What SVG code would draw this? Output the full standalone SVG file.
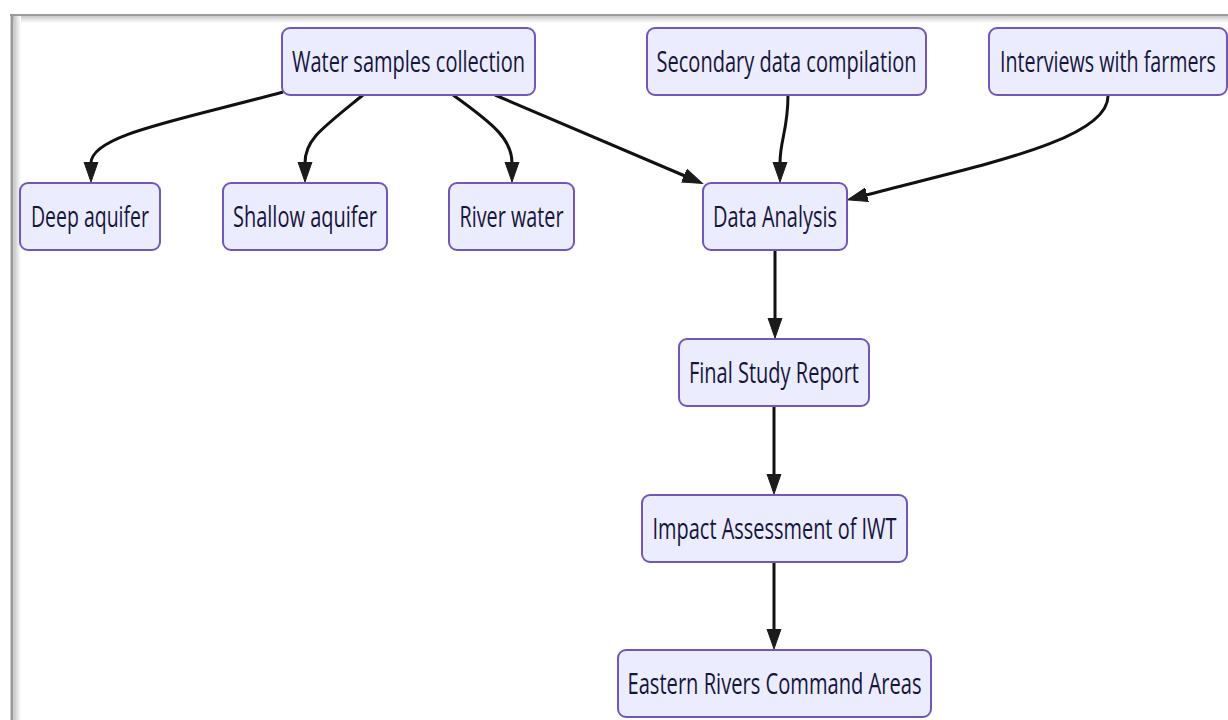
<svg xmlns="http://www.w3.org/2000/svg" width="1228" height="720" viewBox="0 0 1228 720">
<style>
.node rect{fill:#ECECFF;stroke:#7256B8;stroke-width:2}
.node text{font-family:"Open Sans","Noto Sans",sans-serif;font-size:29px;fill:#16163a;text-anchor:middle}
.edge{fill:none;stroke:#111;stroke-width:3;marker-end:url(#arrow)}
</style>
<defs>
<marker id="arrow" markerUnits="userSpaceOnUse" markerWidth="22" markerHeight="16" refX="1" refY="8" orient="auto" viewBox="0 0 22 16">
<path d="M0,1 L20,8 L0,15 z" fill="#1b1b1b" stroke="#1b1b1b" stroke-width="1"/>
</marker>
<linearGradient id="gt" x1="0" y1="0" x2="0" y2="1"><stop offset="0" stop-color="#c8c8c8"/><stop offset="1" stop-color="#fff"/></linearGradient>
<linearGradient id="gl" x1="0" y1="0" x2="1" y2="0"><stop offset="0" stop-color="#c8c8c8"/><stop offset="1" stop-color="#fff"/></linearGradient>
</defs>
<rect width="1228" height="720" fill="#fff"/>
<g id="frame">
<rect x="12" y="16" width="1216" height="7" fill="url(#gt)"/>
<rect x="14" y="16" width="7" height="704" fill="url(#gl)"/>
<line x1="10" y1="15" x2="1228" y2="15" stroke="#9a9a9a" stroke-width="2"/>
<line x1="12" y1="14" x2="12" y2="720" stroke="#9a9a9a" stroke-width="3"/>
</g>
<g id="connectors">
<path class="edge" d="M283,92 C180,120 91,135 91,163"/>
<path class="edge" d="M363,95 C320,130 305,140 305,163"/>
<path class="edge" d="M453,95 C495,125 512,140 512,163"/>
<path class="edge" d="M495,95 L685,176"/>
<path class="edge" d="M788,95 C788,130 780,140 780,163"/>
<path class="edge" d="M1108,95 C1110,140 980,165 866,195"/>
<path class="edge" d="M775,250 L775,319"/>
<path class="edge" d="M774,406 L774,475"/>
<path class="edge" d="M774,562 L774,630"/>
</g>
<g id="water-samples" class="node"><rect x="282" y="28" width="253" height="67" rx="8"/><text transform="scale(0.69,1)" x="592.0" y="72" textLength="337.7" lengthAdjust="spacingAndGlyphs">Water samples collection</text></g>
<g id="secondary-data" class="node"><rect x="647" y="28" width="279" height="67" rx="8"/><text transform="scale(0.69,1)" x="1139.9" y="72" textLength="376.8" lengthAdjust="spacingAndGlyphs">Secondary data compilation</text></g>
<g id="interviews" class="node"><rect x="989" y="28" width="238" height="67" rx="8"/><text transform="scale(0.69,1)" x="1605.8" y="72" textLength="313.0" lengthAdjust="spacingAndGlyphs">Interviews with farmers</text></g>
<g id="deep-aquifer" class="node"><rect x="20" y="183" width="140" height="67" rx="8"/><text transform="scale(0.69,1)" x="130.4" y="227" textLength="171.0" lengthAdjust="spacingAndGlyphs">Deep aquifer</text></g>
<g id="shallow-aquifer" class="node"><rect x="223" y="183" width="164" height="67" rx="8"/><text transform="scale(0.69,1)" x="442.0" y="227" textLength="208.7" lengthAdjust="spacingAndGlyphs">Shallow aquifer</text></g>
<g id="river-water" class="node"><rect x="449" y="183" width="125" height="67" rx="8"/><text transform="scale(0.69,1)" x="741.3" y="227" textLength="150.7" lengthAdjust="spacingAndGlyphs">River water</text></g>
<g id="data-analysis" class="node"><rect x="703" y="183" width="144" height="67" rx="8"/><text transform="scale(0.69,1)" x="1123.2" y="227" textLength="179.7" lengthAdjust="spacingAndGlyphs">Data Analysis</text></g>
<g id="final-report" class="node"><rect x="679" y="339" width="190" height="67" rx="8"/><text transform="scale(0.69,1)" x="1121.7" y="383" textLength="246.4" lengthAdjust="spacingAndGlyphs">Final Study Report</text></g>
<g id="impact-assessment" class="node"><rect x="642" y="495" width="265" height="67" rx="8"/><text transform="scale(0.69,1)" x="1122.5" y="539" textLength="353.6" lengthAdjust="spacingAndGlyphs">Impact Assessment of IWT</text></g>
<g id="eastern-rivers" class="node"><rect x="618" y="650" width="313" height="67" rx="8"/><text transform="scale(0.69,1)" x="1122.5" y="694" textLength="426.1" lengthAdjust="spacingAndGlyphs">Eastern Rivers Command Areas</text></g>
</svg>
